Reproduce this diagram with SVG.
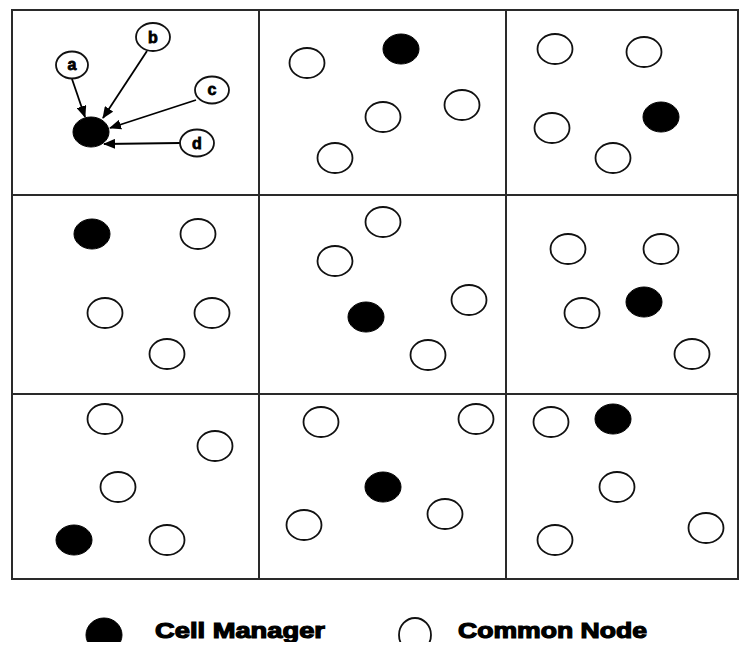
<svg xmlns="http://www.w3.org/2000/svg" width="747" height="661" viewBox="0 0 747 661">
<style>
.grid{fill:none;stroke:#2a2a2a;stroke-width:2}
.cn{fill:#fff;stroke:#111;stroke-width:1.8}
.cm{fill:#000;stroke:#000;stroke-width:1}
.edge{stroke:#000;stroke-width:1.8;fill:none;marker-end:url(#ah)}
.lbl{font-family:"Liberation Sans",Arial,sans-serif;font-weight:bold;font-size:16px;fill:#000;stroke:#000;stroke-width:0.8;text-anchor:middle}
.leg{font-family:"Liberation Sans",Arial,sans-serif;font-weight:bold;font-size:22px;fill:#000;stroke:#000;stroke-width:1.2}
</style>
<defs>
<marker id="ah" viewBox="0 0 12 10" refX="11" refY="5" markerWidth="12" markerHeight="10" markerUnits="userSpaceOnUse" orient="auto">
<path d="M0,0 L12,5 L0,10 z" fill="#000"/>
</marker>
<clipPath id="legclip"><rect x="0" y="590" width="747" height="52"/></clipPath>
</defs>
<rect width="747" height="661" fill="#fff"/>
<g id="grid">
<rect class="grid" x="12" y="10" width="726" height="569"/>
<line class="grid" x1="259" y1="10" x2="259" y2="579"/>
<line class="grid" x1="506" y1="10" x2="506" y2="579"/>
<line class="grid" x1="12" y1="195" x2="738" y2="195"/>
<line class="grid" x1="12" y1="394" x2="738" y2="394"/>
</g>
<g id="connectors">
<line class="edge" x1="72" y1="79" x2="85" y2="117"/>
<line class="edge" x1="147" y1="51" x2="103" y2="118"/>
<line class="edge" x1="196" y1="100" x2="110" y2="128"/>
<line class="edge" x1="180" y1="143" x2="104" y2="144"/>
</g>
<g id="cell11">
<g id="cm11"><ellipse class="cm" cx="91" cy="132" rx="18" ry="15"/></g>
<g id="na"><ellipse class="cn" cx="72" cy="65" rx="16" ry="13.5"/><text class="lbl" x="72" y="70">a</text></g>
<g id="nb"><ellipse class="cn" cx="153" cy="37" rx="17" ry="14"/><text class="lbl" x="153" y="43">b</text></g>
<g id="nc"><ellipse class="cn" cx="212" cy="90" rx="17" ry="13.5"/><text class="lbl" x="212" y="95">c</text></g>
<g id="nd"><ellipse class="cn" cx="197" cy="143" rx="17" ry="13.5"/><text class="lbl" x="197" y="149">d</text></g>
</g>
<g id="cell12">
<ellipse class="cm" cx="401" cy="49" rx="18" ry="15"/>
<ellipse class="cn" cx="307" cy="63" rx="17.5" ry="15"/>
<ellipse class="cn" cx="383" cy="117" rx="17.5" ry="15"/>
<ellipse class="cn" cx="462" cy="105" rx="17.5" ry="15"/>
<ellipse class="cn" cx="335" cy="158" rx="17.5" ry="15"/>
</g>
<g id="cell13">
<ellipse class="cm" cx="661" cy="117" rx="18" ry="15"/>
<ellipse class="cn" cx="555" cy="49" rx="17.5" ry="15"/>
<ellipse class="cn" cx="644" cy="52" rx="17.5" ry="15"/>
<ellipse class="cn" cx="552" cy="128" rx="17.5" ry="15"/>
<ellipse class="cn" cx="613" cy="158" rx="17.5" ry="15"/>
</g>
<g id="cell21">
<ellipse class="cm" cx="92" cy="234" rx="18" ry="15"/>
<ellipse class="cn" cx="198" cy="234" rx="17.5" ry="15"/>
<ellipse class="cn" cx="105" cy="313" rx="17.5" ry="15"/>
<ellipse class="cn" cx="212" cy="313" rx="17.5" ry="15"/>
<ellipse class="cn" cx="167" cy="354" rx="17.5" ry="15"/>
</g>
<g id="cell22">
<ellipse class="cm" cx="366" cy="317" rx="18" ry="15"/>
<ellipse class="cn" cx="383" cy="222" rx="17.5" ry="15"/>
<ellipse class="cn" cx="335" cy="261" rx="17.5" ry="15"/>
<ellipse class="cn" cx="469" cy="300" rx="17.5" ry="15"/>
<ellipse class="cn" cx="428" cy="355" rx="17.5" ry="15"/>
</g>
<g id="cell23">
<ellipse class="cm" cx="644" cy="302" rx="18" ry="15"/>
<ellipse class="cn" cx="568" cy="249" rx="17.5" ry="15"/>
<ellipse class="cn" cx="661" cy="249" rx="17.5" ry="15"/>
<ellipse class="cn" cx="582" cy="313" rx="17.5" ry="15"/>
<ellipse class="cn" cx="692" cy="354" rx="17.5" ry="15"/>
</g>
<g id="cell31">
<ellipse class="cm" cx="74" cy="540" rx="18" ry="15"/>
<ellipse class="cn" cx="105" cy="419" rx="17.5" ry="15"/>
<ellipse class="cn" cx="215" cy="446" rx="17.5" ry="15"/>
<ellipse class="cn" cx="118" cy="487" rx="17.5" ry="15"/>
<ellipse class="cn" cx="167" cy="540" rx="17.5" ry="15"/>
</g>
<g id="cell32">
<ellipse class="cm" cx="383" cy="487" rx="18" ry="15"/>
<ellipse class="cn" cx="321" cy="422" rx="17.5" ry="15"/>
<ellipse class="cn" cx="476" cy="419" rx="17.5" ry="15"/>
<ellipse class="cn" cx="445" cy="514" rx="17.5" ry="15"/>
<ellipse class="cn" cx="304" cy="525" rx="17.5" ry="15"/>
</g>
<g id="cell33">
<ellipse class="cm" cx="613" cy="419" rx="18" ry="15"/>
<ellipse class="cn" cx="551" cy="422" rx="17.5" ry="15"/>
<ellipse class="cn" cx="617" cy="487" rx="17.5" ry="15"/>
<ellipse class="cn" cx="706" cy="528" rx="17.5" ry="15"/>
<ellipse class="cn" cx="555" cy="540" rx="17.5" ry="15"/>
</g>
<g id="legend" clip-path="url(#legclip)">
<ellipse class="cm" cx="104" cy="635" rx="18" ry="17"/>
<text class="leg" x="155" y="638" textLength="170" lengthAdjust="spacingAndGlyphs">Cell Manager</text>
<ellipse class="cn" cx="415" cy="635" rx="16" ry="17"/>
<text class="leg" x="458" y="638" textLength="189" lengthAdjust="spacingAndGlyphs">Common Node</text>
</g>
</svg>
